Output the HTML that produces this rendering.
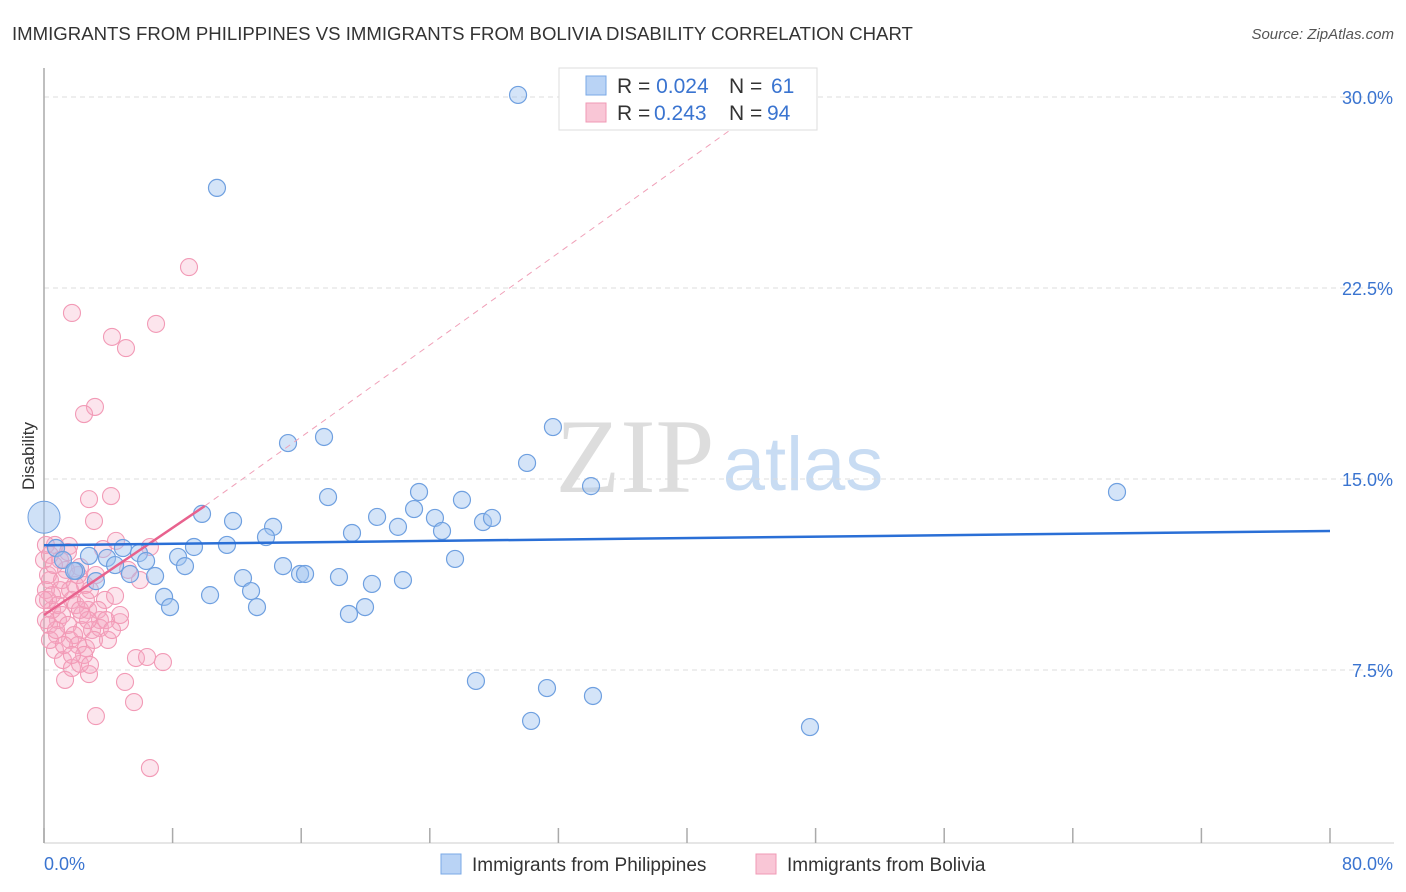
<!DOCTYPE html>
<html><head><meta charset="utf-8"><style>
body{margin:0;background:#fff;font-family:"Liberation Sans",sans-serif}
svg{display:block}
</style></head><body>
<svg id="c" width="1406" height="892">
<text x="12" y="40" font-size="18.6" fill="#333">IMMIGRANTS FROM PHILIPPINES VS IMMIGRANTS FROM BOLIVIA DISABILITY CORRELATION CHART</text>
<text x="1394" y="39" font-size="15" fill="#555" font-style="italic" text-anchor="end">Source: ZipAtlas.com</text>
<text x="34" y="456" font-size="17" fill="#333" text-anchor="middle" transform="rotate(-90 34 456)">Disability</text>
<g><text x="635" y="492" font-size="106" font-family="Liberation Serif,serif" fill="#ddd" text-anchor="middle">ZIP</text><text x="803" y="490" font-size="76" fill="#c8dcf3" text-anchor="middle">atlas</text></g>
<g id="grid"></g><g id="pts"></g><g id="trend"></g>
<g>
<rect x="559" y="68" width="258" height="62" fill="#fff" stroke="#ddd"/>
<rect x="586" y="76" width="20" height="19" fill="#b9d3f5" stroke="#7aa8e6"/>
<rect x="586" y="103" width="20" height="19" fill="#f9c6d6" stroke="#f09ab5"/>
<text x="617" y="93" font-size="21" fill="#333">R = <tspan fill="#3a74d0">0.024</tspan><tspan x="729">N = </tspan><tspan fill="#3a74d0" x="771">61</tspan></text>
<text x="617" y="120" font-size="21" fill="#333">R = <tspan fill="#3a74d0" x="654">0.243</tspan><tspan x="729">N = </tspan><tspan fill="#3a74d0" x="767">94</tspan></text>
</g>
<g>
<rect x="441" y="854" width="20" height="20" fill="#b9d3f5" stroke="#7aa8e6"/>
<text x="472" y="871" font-size="19" fill="#333">Immigrants from Philippines</text>
<rect x="756" y="854" width="20" height="20" fill="#f9c6d6" stroke="#f09ab5"/>
<text x="787" y="871" font-size="19" fill="#333">Immigrants from Bolivia</text>
</g>
<text x="44" y="870" font-size="18" fill="#3a74d0">0.0%</text>
<text x="1393" y="870" font-size="18" fill="#3a74d0" text-anchor="end">80.0%</text>
</svg>
<script>
const yTicks=[7.5,15,22.5,30];
const xTicks=[0,8,16,24,32,40,48,56,64,72,80];
const bluePx=[[518,95],[217,188],[288,443],[324,437],[553,427],[527,463],[591,486],[1117,492],[328,497],[419,492],[462,500],[202,514],[233,521],[273,527],[266,537],[377,517],[414,509],[435,518],[398,527],[442,531],[483,522],[492,518],[352,533],[56,548],[63,560],[76,571],[89,556],[96,581],[107,558],[115,565],[123,548],[130,574],[139,553],[146,561],[155,576],[178,557],[185,566],[194,547],[227,545],[164,597],[170,607],[210,595],[243,578],[251,591],[257,607],[283,566],[300,574],[305,574],[339,577],[372,584],[403,580],[349,614],[365,607],[455,559],[476,681],[547,688],[593,696],[531,721],[810,727],[74,571]];
const pinkPx=[[189,267],[72,313],[156,324],[112,337],[126,348],[95,407],[84,414],[111,496],[89,499],[94,521],[116,541],[150,547],[103,549],[69,546],[80,567],[44,560],[50,580],[60,590],[72,600],[88,610],[100,620],[120,622],[136,658],[147,657],[163,662],[125,682],[134,702],[96,716],[150,768],[89,674],[65,680],[55,650],[70,640],[82,630],[58,620],[48,600],[52,610],[66,570],[75,585],[90,590],[105,600],[115,596],[46,590],[49,625],[57,635],[63,660],[72,668],[80,664],[86,648],[92,630],[100,628],[108,640],[60,560],[55,545],[68,552],[78,575],[85,585],[48,575],[52,595],[58,605],[62,615],[68,625],[74,635],[78,645],[84,655],[90,665],[98,610],[106,620],[112,630],[120,615],[128,570],[140,580],[96,575],[46,545],[50,555],[54,565],[62,580],[70,590],[76,605],[82,615],[88,620],[94,640],[50,640],[56,630],[64,645],[72,655],[80,610],[86,600],[44,600],[46,620]];
function X(v){return 44+v*16.075}
function Y(v){return 861-v*25.467}
function iX(p){return (p-44)/16.075}
function iY(p){return (861-p)/25.467}
const blueX=bluePx.map(p=>+iX(p[0]).toFixed(2)), blueY=bluePx.map(p=>+iY(p[1]).toFixed(2));
const pinkX=pinkPx.map(p=>+iX(p[0]).toFixed(2)), pinkY=pinkPx.map(p=>+iY(p[1]).toFixed(2));
const blueTrend=[[0,12.4],[80,12.96]];
const pinkTrend=[[0,9.66],[10,13.94]];
const pinkTrendExt=[[10,13.94],[46,30.2]];
const NS='http://www.w3.org/2000/svg';
function mk(t,a,p){const e=document.createElementNS(NS,t);for(const k in a)e.setAttribute(k,a[k]);p.appendChild(e);return e}
const g=document.getElementById('grid');
yTicks.forEach(t=>{
 const l=mk('line',{x1:44,x2:1394,y1:Y(t),y2:Y(t),stroke:'#ddd','stroke-dasharray':'5,4'},g);
 
 
 const tx=mk('text',{x:1393,y:Y(t)+7,'font-size':18,fill:'#3a74d0','text-anchor':'end'},g);
 tx.textContent=t.toFixed(1)+'%';
 
 
});
const ax=mk('line',{x1:44,x2:44,y1:68,y2:843,stroke:'#aaa','stroke-width':1.5},g);


const bx=mk('line',{x1:44,x2:1394,y1:843,y2:843,stroke:'#ccc'},g);


xTicks.forEach(t=>{
 const l=mk('line',{x1:X(t),x2:X(t),y1:828,y2:843,stroke:'#aaa','stroke-width':1.5},g);
 
 
});
const pg=document.getElementById('pts');
const big=mk('circle',{cx:X(0),cy:Y(13.5),r:16,fill:'rgba(160,196,240,0.5)',stroke:'#6fa0e0'},pg);


pinkX.forEach((x,i)=>{
 const c=mk('circle',{cx:X(x),cy:Y(pinkY[i]),r:8.5,fill:'rgba(246,170,196,0.3)',stroke:'#f29ab6','stroke-width':1.1},pg);
 
 
});
blueX.forEach((x,i)=>{
 const c=mk('circle',{cx:X(x),cy:Y(blueY[i]),r:8.5,fill:'rgba(160,196,240,0.45)',stroke:'#6fa0e0','stroke-width':1.2},pg);
 
 
});
const tg=document.getElementById('trend');
const pe=mk('line',{x1:X(pinkTrendExt[0][0]),y1:Y(pinkTrendExt[0][1]),x2:X(pinkTrendExt[1][0]),y2:Y(pinkTrendExt[1][1]),stroke:'#f0a0b8','stroke-dasharray':'6,5'},tg);


const pt=mk('line',{x1:X(pinkTrend[0][0]),y1:Y(pinkTrend[0][1]),x2:X(pinkTrend[1][0]),y2:Y(pinkTrend[1][1]),stroke:'#e8628e','stroke-width':2.5},tg);


const bt=mk('line',{x1:X(blueTrend[0][0]),y1:Y(blueTrend[0][1]),x2:X(blueTrend[1][0]),y2:Y(blueTrend[1][1]),stroke:'#2a6fd6','stroke-width':2.5},tg);


</script>
</body></html>
